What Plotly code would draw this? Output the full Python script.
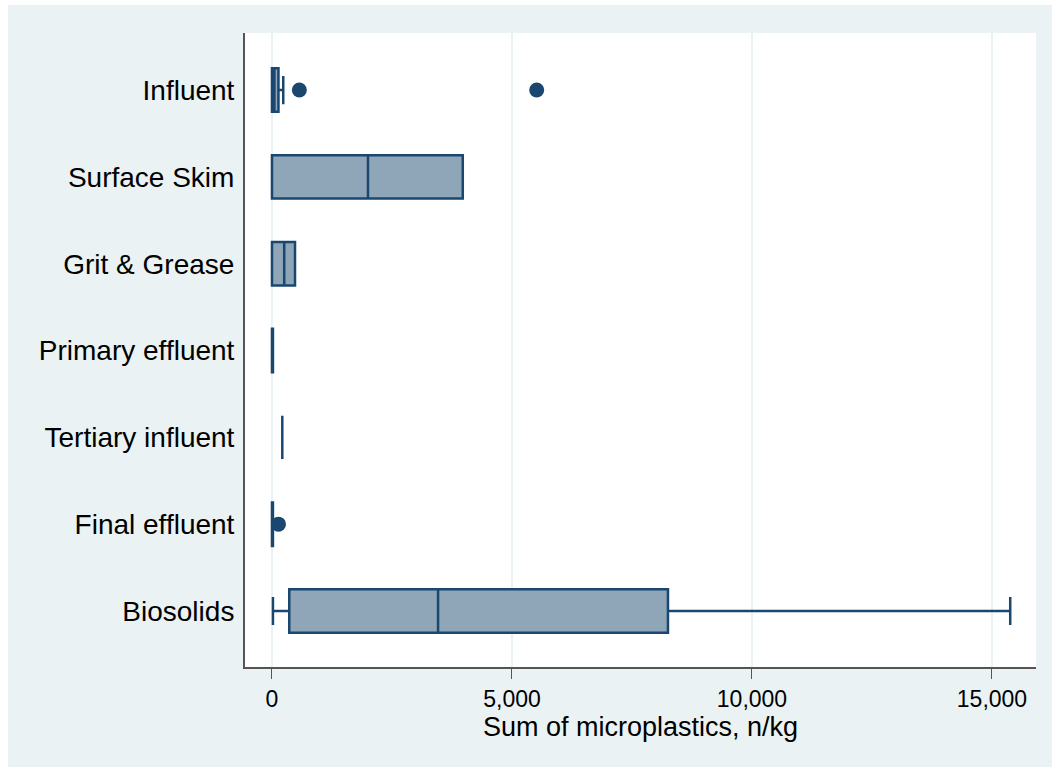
import plotly.graph_objects as go

categories = ["Influent", "Surface Skim", "Grit & Grease", "Primary effluent",
              "Tertiary influent", "Final effluent", "Biosolids"]
lower_whisker = [0, 0, 0, 0, 215, 0, 20]
q1 = [0, 0, 0, 0, 215, 0, 360]
median = [50, 2000, 255, 10, 215, 10, 3460]
q3 = [135, 3975, 480, 20, 215, 20, 8250]
upper_whisker = [235, 3975, 480, 20, 215, 20, 15380]

outlier_cats = ["Influent", "Influent", "Final effluent"]
outlier_vals = [570, 5515, 135]

xticks = [0, 5000, 10000, 15000]
xtick_labels = ["0", "5,000", "10,000", "15,000"]

LINE = "#1A476F"
FILL = "#8FA5B8"
BG = "#EAF2F3"

fig = go.Figure()
fig.add_trace(go.Box(
    y=categories, q1=q1, median=median, q3=q3,
    lowerfence=lower_whisker, upperfence=upper_whisker,
    orientation="h", fillcolor=FILL, line=dict(color=LINE, width=2.5),
    width=0.5, whiskerwidth=0.65, boxpoints=False, showlegend=False,
    hoverinfo="skip",
))
fig.add_trace(go.Scatter(
    x=outlier_vals, y=outlier_cats, mode="markers",
    marker=dict(color=LINE, size=15, line=dict(width=0)),
    showlegend=False, hoverinfo="skip",
))

W, H = 1052, 767
L, R, T, B = 245, 16, 33, 100
pw, ph = W - L - R, H - T - B

def px(xp):
    return (xp - L) / pw

def py(yp):
    return (H - B - yp) / ph

fig.update_layout(
    width=W, height=H,
    margin=dict(l=L, r=R, t=T, b=B),
    paper_bgcolor="white", plot_bgcolor="rgba(0,0,0,0)",
    font=dict(family="Liberation Sans, Arial, sans-serif", size=20, color="black"),
    shapes=[
        dict(type="rect", xref="paper", yref="paper", x0=px(8), x1=px(1052),
             y0=py(767), y1=py(5), fillcolor=BG, line=dict(width=0), layer="below"),
        dict(type="rect", xref="paper", yref="paper", x0=0, x1=1, y0=0, y1=1,
             fillcolor="white", line=dict(width=0), layer="below"),
    ],
    xaxis=dict(
        range=[-562, 15917], tickvals=xticks, ticktext=xtick_labels,
        showgrid=True, gridcolor=BG, gridwidth=2,
        zeroline=False, showline=True, linecolor="#555555", linewidth=2,
        ticks="outside", ticklen=10, tickcolor="#555555", tickwidth=1,
        tickfont=dict(size=23),
        title=dict(text="Sum of microplastics, n/kg", standoff=4,
                   font=dict(size=27)),
    ),
    yaxis=dict(
        type="category", categoryorder="array", categoryarray=categories,
        range=[6.645, -0.657],
        showgrid=False, zeroline=False, showline=True, linecolor="#555555", linewidth=2,
        ticks="outside", ticklen=3, tickcolor="rgba(0,0,0,0)",
        tickfont=dict(size=28),
    ),
)

fig.write_html("out.html")
